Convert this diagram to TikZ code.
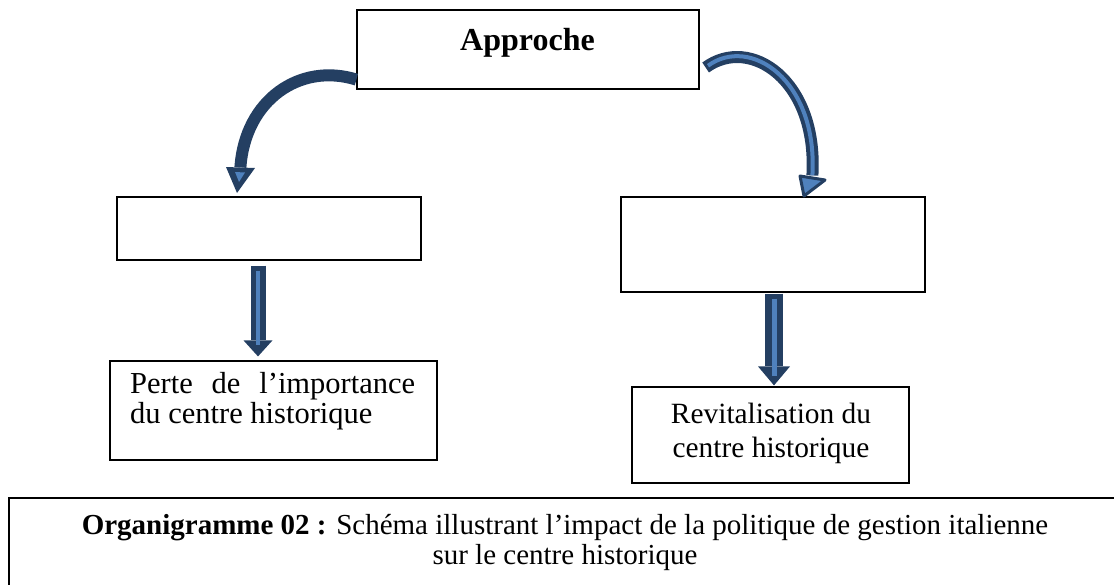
\documentclass[tikz,border=0pt]{standalone}
\usepackage{fontspec}
\setmainfont{Liberation Serif}
\usetikzlibrary{calc}
\definecolor{navy}{RGB}{36,63,98}
\definecolor{lightblue}{RGB}{79,129,189}
\begin{document}
\begin{tikzpicture}[x=1pt,y=-1pt,
  box/.style={draw=black, line width=1.2pt, inner sep=0pt, fill=white},
  txt/.style={inner sep=0pt, font=\fontsize{#1}{#1}\selectfont},
  shaft/.style={draw=navy, line width=#1},
  stripe/.style={draw=lightblue, line width=#1}]
\useasboundingbox (0,0) rectangle (1114,584);
\clip (0,0) rectangle (1114,584);

% boxes
\node[box, minimum width=342pt, minimum height=79pt] (approche) at (528,49.5) {};
\node[box, minimum width=304pt, minimum height=63pt] (leftbox) at (269,228.5) {};
\node[box, minimum width=304pt, minimum height=95pt] (rightbox) at (773,244.5) {};
\node[box, minimum width=327pt, minimum height=99pt] (perte) at (273.5,410.5) {};
\node[box, minimum width=277pt, minimum height=96pt] (revit) at (770.5,435) {};
\node[box, line width=1.8pt, minimum width=1116pt, minimum height=102pt] (capbox) at (567,549) {};

% texts
\node[inner sep=0pt, font=\fontsize{32}{32}\selectfont\bfseries, anchor=base] (approcheT) at (527.5,50) {Approche};
\node[txt=30.5, anchor=base west] (perteA) at (130,393) {\makebox[285pt][s]{Perte de l’importance}};
\node[txt=30.5, anchor=base west] (perteB) at (130,423) {du centre historique};
\node[txt=29.4, anchor=base] (revitA) at (771,423) {Revitalisation du};
\node[txt=29.4, anchor=base] (revitB) at (771,457) {centre historique};
\node[txt=29, anchor=base] (capA) at (565,534) {\textbf{Organigramme 02 :} Schéma illustrant l’impact de la politique de gestion italienne};
\node[txt=29, anchor=base] (capB) at (565,564) {sur le centre historique};

% left curved arrow
\coordinate (la0) at ($(approche.south west)+(0,-10)$);
\coordinate (la1) at ($(leftbox.north west)+(124,-29)$);
\draw[shaft=12pt] (la0) .. controls (300,62) and (245,100) .. (la1);
\fill[navy] (226,167) -- (255,168) -- (237,193) -- cycle;
\fill[lightblue] (235,172) -- (245,172.5) -- (239,182) -- cycle;

% right curved arrow
\coordinate (ra0) at ($(approche.east)+(6,18)$);
\coordinate (ra1) at ($(rightbox.north west)+(192,-21)$);
\draw[shaft=12pt] (ra0) .. controls (750,35) and (818,80) .. (ra1);
\draw[stripe=4pt, shorten <=3pt] (ra0) .. controls (750,35) and (818,80) .. (ra1);
\draw[navy, fill=lightblue, line width=3pt, line join=round] (800,176) -- (825,180) -- (804,196) -- cycle;

% left straight arrow
\coordinate (ld0) at ($(leftbox.south)+(-11,5)$);
\coordinate (ld2) at ($(perte.north)+(-15.5,-4)$);
\coordinate (ld1) at ($(ld2)+(0,-16)$);
\draw[shaft=15pt] (ld0) -- (ld1);
\fill[navy] ($(ld1)+(-14.5,0)$) -- ($(ld1)+(14.5,0)$) -- (ld2) -- cycle;
\draw[stripe=4.5pt] ($(ld0)+(0,5)$) -- ($(ld1)+(0,5)$);

% right straight arrow
\coordinate (rd0) at ($(rightbox.south)+(1,1)$);
\coordinate (rd2) at ($(revit.north)+(3.5,-1)$);
\coordinate (rd1) at ($(rd2)+(0,-19)$);
\draw[shaft=18pt] (rd0) -- (rd1);
\fill[navy] ($(rd1)+(-16,0)$) -- ($(rd1)+(16,0)$) -- (rd2) -- cycle;
\draw[stripe=5pt] ($(rd0)+(0,5)$) -- ($(rd1)+(0,10)$);
\end{tikzpicture}
\end{document}
